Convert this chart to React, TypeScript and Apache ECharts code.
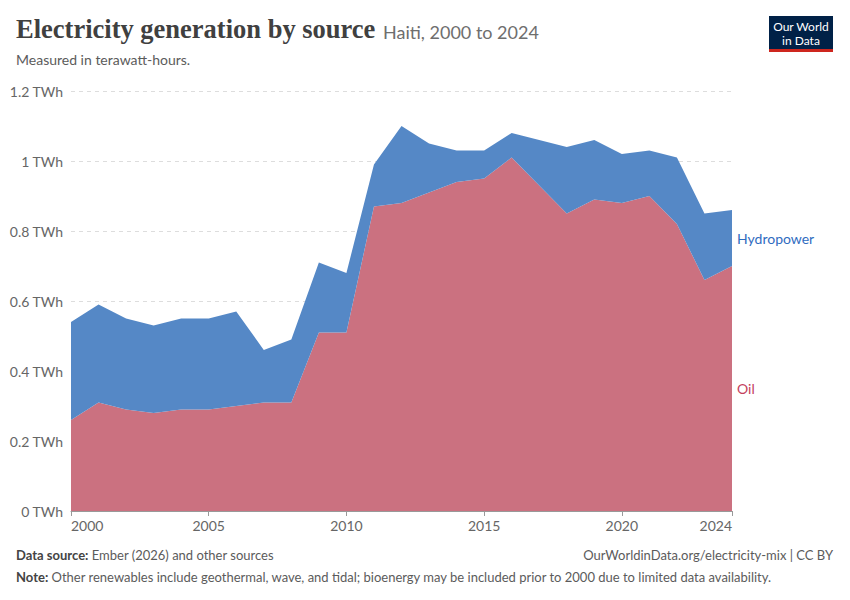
import React, { useEffect, useRef } from "react";
import * as echarts from "echarts";

const years = [2000, 2001, 2002, 2003, 2004, 2005, 2006, 2007, 2008, 2009, 2010, 2011, 2012, 2013, 2014, 2015, 2016, 2017, 2018, 2019, 2020, 2021, 2022, 2023, 2024];
const oil = [0.26, 0.31, 0.29, 0.28, 0.29, 0.29, 0.30, 0.31, 0.31, 0.51, 0.51, 0.87, 0.88, 0.91, 0.94, 0.95, 1.01, 0.93, 0.85, 0.89, 0.88, 0.90, 0.82, 0.66, 0.70];
const hydropower = [0.28, 0.28, 0.26, 0.25, 0.26, 0.26, 0.27, 0.15, 0.18, 0.20, 0.17, 0.12, 0.22, 0.14, 0.09, 0.08, 0.07, 0.13, 0.19, 0.17, 0.14, 0.13, 0.19, 0.19, 0.16];
const xTicks = [2000, 2005, 2010, 2015, 2020, 2024];
const yTicks = [0, 0.2, 0.4, 0.6, 0.8, 1, 1.2];

const OIL_FILL = "#cb7180";
const HYDRO_FILL = "#5588c6";
const OIL_TEXT = "#c4415d";
const HYDRO_TEXT = "#2f6cbf";
const GRAY = "#5b5b5b";
const SANS = "Lato, 'Noto Sans', sans-serif";

export default function App() {
  const ref = useRef<HTMLDivElement>(null);
  useEffect(() => {
    document.body.style.margin = "0";
    if (!ref.current) return;
    const chart = echarts.init(ref.current, null, { renderer: "svg" });
    const fmt = (v: number) => (v === 0 ? "0 TWh" : `${+v.toFixed(1)} TWh`);
    const showTick = (index: number) => xTicks.indexOf(years[index]) >= 0;
    const headerGraphics: any[] = [
      {
        type: "text", left: 16, top: 15,
        style: { text: "Electricity generation by source", font: "bold 26.5px 'Liberation Serif', serif", fill: "#404040" },
      },
      {
        type: "text", left: 383, top: 23,
        style: { text: "Haiti, 2000 to 2024", font: `18px ${SANS}`, fill: "#6e6e6e" },
      },
      {
        type: "text", left: 16, top: 52,
        style: { text: "Measured in terawatt-hours.", font: `14px ${SANS}`, fill: GRAY },
      },
      { type: "rect", shape: { x: 769, y: 16, width: 64, height: 33 }, style: { fill: "#002147" } },
      { type: "rect", shape: { x: 769, y: 49, width: 64, height: 3 }, style: { fill: "#ce261e" } },
      {
        type: "text", x: 801, y: 33,
        style: { text: "Our World\nin Data", font: `12px ${SANS}`, fill: "#ffffff", align: "center", verticalAlign: "middle", lineHeight: 14 },
      },
      {
        type: "text", left: 16, top: 548,
        style: {
          text: "{b|Data source:} Ember (2026) and other sources",
          font: `13px ${SANS}`, fill: GRAY,
          rich: { b: { font: `bold 13px ${SANS}`, fill: "#444" } },
        },
      },
      {
        type: "text", right: 17, top: 548,
        style: { text: "OurWorldinData.org/electricity-mix | CC BY", font: `13px ${SANS}`, fill: GRAY },
      },
      {
        type: "text", left: 16, top: 570,
        style: {
          text: "{b|Note:} Other renewables include geothermal, wave, and tidal; bioenergy may be included prior to 2000 due to limited data availability.",
          font: `13px ${SANS}`, fill: GRAY,
          rich: { b: { font: `bold 13px ${SANS}`, fill: "#444" } },
        },
      },
    ];
    const option: any = {
      animation: false,
      grid: { left: 71, right: 118, top: 91, bottom: 89, containLabel: false },
      xAxis: {
        type: "category", boundaryGap: false, data: years.map(String),
        axisLine: { show: true, lineStyle: { color: "#999", width: 1 } },
        axisTick: { show: true, interval: showTick, length: 5, lineStyle: { color: "#999" } },
        axisLabel: {
          interval: showTick, color: "#666", fontSize: 14, fontFamily: SANS, margin: 7,
          alignMinLabel: "left", alignMaxLabel: "right",
        },
        splitLine: { show: false },
      },
      yAxis: {
        type: "value", min: yTicks[0], max: yTicks[yTicks.length - 1], interval: 0.2,
        axisLine: { show: false }, axisTick: { show: false },
        axisLabel: { formatter: fmt, color: "#666", fontSize: 14, fontFamily: SANS, margin: 8 },
        splitLine: { show: true, lineStyle: { color: "#ddd", type: [4, 4], width: 1 } },
      },
      series: [
        {
          name: "Oil", type: "line", stack: "total", symbol: "none",
          data: oil,
          lineStyle: { width: 0 }, areaStyle: { color: OIL_FILL, opacity: 1 }, itemStyle: { color: OIL_FILL },
        },
        {
          name: "Hydropower", type: "line", stack: "total", symbol: "none",
          data: hydropower,
          lineStyle: { width: 0 }, areaStyle: { color: HYDRO_FILL, opacity: 1 }, itemStyle: { color: HYDRO_FILL },
        },
      ],
      graphic: headerGraphics,
    };
    chart.setOption(option);
    const last = years.length - 1;
    const oilMid = chart.convertToPixel({ gridIndex: 0 }, [last, oil[last] / 2]) as number[];
    const hydroMid = chart.convertToPixel({ gridIndex: 0 }, [last, oil[last] + hydropower[last] / 2]) as number[];
    chart.setOption({
      graphic: [
        ...headerGraphics,
        { type: "text", x: hydroMid[0] + 5, y: hydroMid[1], style: { text: "Hydropower", font: `14px ${SANS}`, fill: HYDRO_TEXT, verticalAlign: "middle" } },
        { type: "text", x: oilMid[0] + 5, y: oilMid[1], style: { text: "Oil", font: `14px ${SANS}`, fill: OIL_TEXT, verticalAlign: "middle" } },
      ],
    });
    return () => chart.dispose();
  }, []);
  return <div ref={ref} style={{ width: 850, height: 600 }} />;
}
